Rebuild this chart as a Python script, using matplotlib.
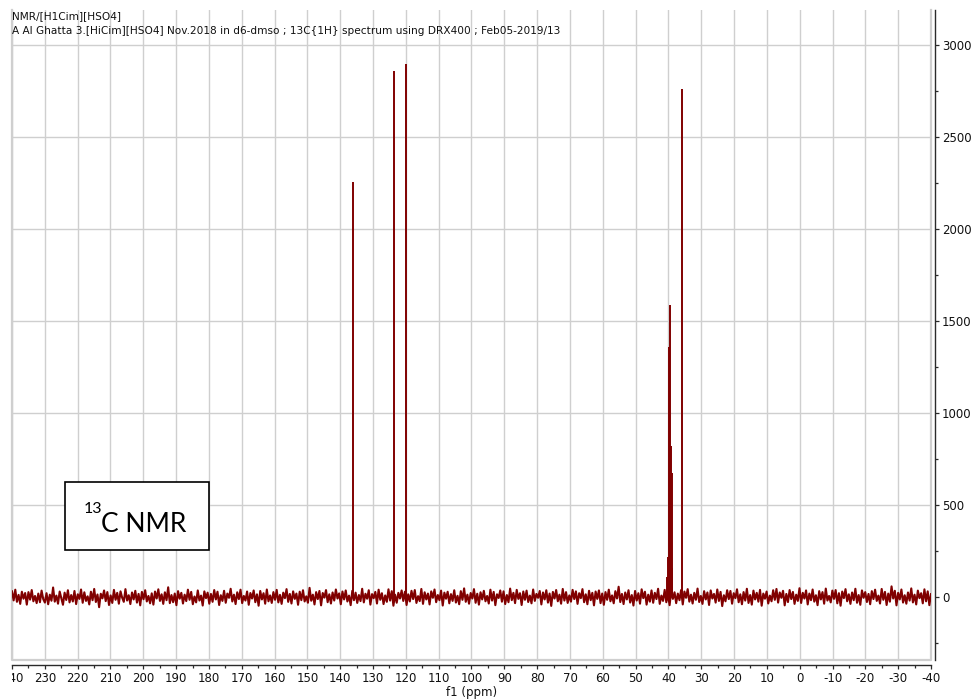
import numpy as np
import matplotlib
matplotlib.use("Agg")
import matplotlib.pyplot as plt
from matplotlib.ticker import MultipleLocator
from matplotlib.transforms import Bbox
from matplotlib.patches import Rectangle

plt.rcParams["axes.unicode_minus"] = False
plt.rcParams["font.family"] = ["DejaVu Sans"]

# ---- header / labels -------------------------------------------------------
header_lines = [
    "NMR/[H1Cim][HSO4]",
    "A Al Ghatta 3.[HiCim][HSO4] Nov.2018 in d6-dmso ; 13C{1H} spectrum using DRX400 ; Feb05-2019/13",
]
x_label = "f1 (ppm)"
box_sup = "13"
box_main = "C NMR"

# ---- spectrum data -----------------------------------------------------------
ppm_limits = (240, -40)
intensity_limits = (-342, 3190)

# resolved carbon signals (ppm, intensity)
peak_ppm = [136.1, 123.6, 120.1, 35.9]
peak_height = [2257, 2860, 2895, 2761]

# d6-DMSO solvent multiplet
solvent_ppm = [40.3, 40.1, 39.8, 39.5, 39.2, 39.0, 38.8]
solvent_height = [110, 217, 1359, 1587, 820, 674, 160]

# baseline noise samples, evenly spaced from 240 to -40 ppm
baseline_noise_text = """
31 -18 40 -26 12 -37 29 -9 22 -41 27 -14 38 -23 6 -33 19 -28 35 -11
-30 21 -39 13 -20 52 -25 8 -36 30 -5 -42 24 -16 37 -29 11 -24 33 -38
15 -10 41 -31 26 -21 4 -40 29 -17 44 -27 14 -55 18 -7 36 -22 27 -43
9 -32 39 -15 23 -36 31 -3 -26 43 -19 10 -38 25 -13 34 -30 17 -45 28
-12 37 -24 6 -34 20 -41 30 -8 42 -21 15 -37 26 -17 53 -33 11 -28 19
-44 32 -9 23 -35 13 -22 40 -15 28 -39 3 -29 36 -19 8 -46 31 -6 24
-36 17 -26 38 -13 29 -43 10 -21 34 -31 19 -4 45 -24 13 -38 26 -11 40
-33 6 -19 30 -42 22 -8 36 -28 15 -47 33 -13 21 -36 41 -23 9 -32 27
-15 39 -29 12 -37 24 -6 43 -26 17 -35 31 -10 19 -42 29 -17 37 -24 4
-31 50 -20 13 -40 27 -11 33 -45 22 -3 38 -28 15 -35 25 -19 41 -8 20
-39 30 -13 36 -24 8 -44 34 -17 24 -32 11 -22 45 -29 18 -9 37 -41 16
-6 28 -35 40 -15 21 -38 9 -26 42 -19 32 -47 13 -31 23 -8 36 -21 29
-43 15 -24 34 -11 38 -32 5 -22 44 -37 26 -13 19 -40 31 -4 41 -28 11
-17 35 -46 24 -9 29 -34 16 -21 37 -30 7 -39 32 -15 47 -26 13 -36 22
-8 43 -31 18 -41 26 -13 34 -23 6 -35 40 -19 28 -44 15 -5 36 -25 31
-38 11 -28 46 -17 23 -33 39 -10 21 -43 30 -15 35 -27 8 -34 41 -21 17
-4 33 -40 25 -13 37 -30 19 -48 28 -8 38 -23 13 -36 44 -19 27 -32 9
-25 39 -11 31 -37 21 -6 43 -28 15 -39 34 -17 23 -45 30 -10 36 -33 19
-42 27 -15 40 -23 9 -34 32 -8 56 -27 17 -38 25 -13 37 -30 11 -46 33
-19 21 -36 42 -6 29 -41 13 -25 36 -31 23 -11 45 -37 8 -21 39 -28 15
-44 35 -10 26 -33 19 -17 38 -40 30 -4 43 -25 13 -35 23 -15 46 -27 6
-37 32 -13 25 -43 36 -8 17 -30 41 -21 28 -49 10 -23 37 -11 33 -36 21
-6 42 -28 15 -39 27 -19 45 -32 11 -41 35 -13 23 -25 39 -47 19 -9 30
-35 8 -23 37 -15 44 -30 25 -4 34 -45 17 -27 38 -11 28 -37 13 -21 48
-32 23 -8 36 -40 19 -17 41 -25 10 -44 32 -13 27 -36 46 -19 6 -29 35
-10 38 -34 21 -47 30 -6 43 -23 15 -37 25 -17 45 -31 11 -42 36 -4 27
-27 17 -39 32 -11 40 -21 8 -35 44 -15 28 -43 19 -25 58 -8 34 -45 23
-13 41 -30 10 -36 25 -19 47 -29 13 -40 35 -6 21 -34 42 -23 31 -44 16
"""
baseline_noise = np.array(baseline_noise_text.split(), dtype=float)
noise_ppm = np.linspace(ppm_limits[0], ppm_limits[1], baseline_noise.size)

# ---- styling ---------------------------------------------------------------
trace_color = "#800000"
grid_color = "#cfcfcf"
axis_color = "#2a2a2a"
W, H = 976, 700

fig = plt.figure(figsize=(W / 100, H / 100), dpi=100)
ax = fig.add_axes([12 / W, 1 - 660 / H, 919 / W, 650 / H])

ax.set_xlim(*ppm_limits)
ax.set_ylim(*intensity_limits)

# spectrum trace
ax.plot(noise_ppm, baseline_noise, color=trace_color, lw=1.5, zorder=3)
rev_ppm, rev_noise = noise_ppm[::-1], baseline_noise[::-1]
all_ppm = np.array(peak_ppm + solvent_ppm)
all_height = np.array(peak_height + solvent_height)
ax.vlines(all_ppm, np.interp(all_ppm, rev_ppm, rev_noise), all_height,
          color=trace_color, lw=1.4, zorder=3)

# grid and plot frame
ax.xaxis.set_major_locator(MultipleLocator(10))
ax.xaxis.set_minor_locator(MultipleLocator(5))
ax.yaxis.set_major_locator(MultipleLocator(500))
ax.yaxis.set_minor_locator(MultipleLocator(250))
ax.set_axisbelow(True)
ax.grid(True, which="major", color=grid_color, lw=1.0)
ax.plot([0, 0, 1, 1], [1, 0, 0, 1], transform=ax.transAxes, color=grid_color,
        lw=1.6, clip_on=False, zorder=1)

# axes: right-hand intensity scale, ppm scale below, both slightly detached
for side in ("left", "top"):
    ax.spines[side].set_visible(False)
for side in ("right", "bottom"):
    ax.spines[side].set_color(axis_color)
    ax.spines[side].set_linewidth(1.0)
ax.spines["right"].set_position(("outward", 3))
ax.spines["bottom"].set_position(("outward", 3.6))
ax.yaxis.tick_right()
ax.tick_params(axis="both", which="major", length=3, width=0.9,
               color=axis_color, labelsize=8.5, pad=2, labelcolor="#111111")
ax.tick_params(axis="both", which="minor", length=1.8, width=0.9,
               color=axis_color)
ax.set_xlabel(x_label, fontsize=8.5, labelpad=1, color="#111111")

# header text
fig.text(12 / W, 1 - 16 / H, header_lines[0], fontsize=7.6, va="center", color="#111111")
fig.text(12 / W, 1 - 31.5 / H, header_lines[1], fontsize=7.6, va="center", color="#111111")

# annotation box
fig.patches.append(Rectangle((65 / W, 1 - 550 / H), 144 / W, 68 / H,
                             transform=fig.transFigure, facecolor="white",
                             edgecolor="black", lw=1.2, zorder=5))
fig.text(84 / W, 1 - 513 / H, box_sup, fontsize=11.5, family="Lato",
         va="baseline", ha="left", zorder=6)
fig.text(101 / W, 1 - 531.5 / H, box_main, fontsize=19, family="Lato",
         va="baseline", ha="left", zorder=6)

# the leftmost ppm label is cut at the plot's left edge
fig.canvas.draw()
for lbl in ax.get_xticklabels():
    lbl.set_clip_box(Bbox([[12, 0], [W, H]]))
    lbl.set_clip_on(True)

fig.savefig("out.png", dpi=100)
